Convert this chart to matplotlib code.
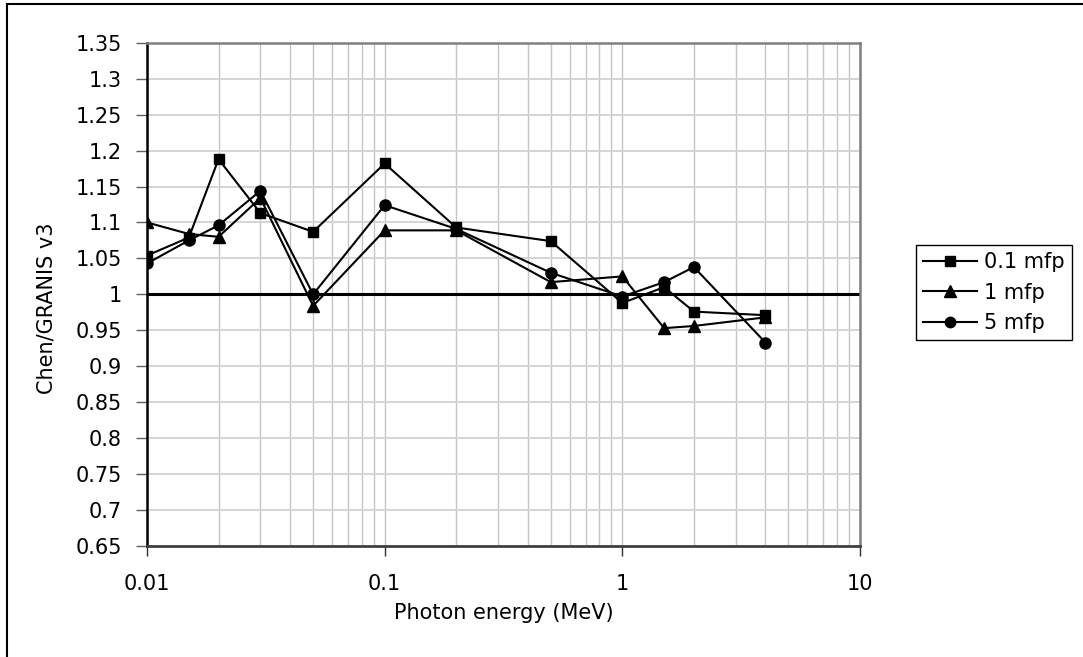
import matplotlib
matplotlib.use("Agg")
import matplotlib.pyplot as plt
from matplotlib.ticker import FixedLocator, LogLocator, NullFormatter, FixedFormatter
from matplotlib.lines import Line2D

energy = [0.01, 0.015, 0.02, 0.03, 0.05, 0.1, 0.2, 0.5, 1, 1.5, 2, 4]
mfp_01 = [1.054, 1.079, 1.188, 1.113, 1.087, 1.182, 1.093, 1.074, 0.988, 1.010, 0.976, 0.971]
mfp_1 = [1.100, 1.084, 1.080, 1.134, 0.984, 1.089, 1.089, 1.017, 1.025, 0.953, 0.956, 0.968]
mfp_5 = [1.043, 1.075, 1.096, 1.144, 1.000, 1.124, 1.091, 1.030, 0.997, 1.017, 1.038, 0.933]
series_labels = ["0.1 mfp", "1 mfp", "5 mfp"]
y_ticks = [0.65, 0.7, 0.75, 0.8, 0.85, 0.9, 0.95, 1, 1.05, 1.1, 1.15, 1.2, 1.25, 1.3, 1.35]
y_ticklabels = ["0.65", "0.7", "0.75", "0.8", "0.85", "0.9", "0.95", "1", "1.05",
                "1.1", "1.15", "1.2", "1.25", "1.3", "1.35"]
x_ticks = [0.01, 0.1, 1, 10]
x_ticklabels = ["0.01", "0.1", "1", "10"]
reference_level = 1.0

plt.rcParams['font.family'] = ['DejaVu Sans']
FS = 15

fig = plt.figure(figsize=(10.83, 6.57), dpi=100)
W, H = 1083, 657
ax = fig.add_axes([147 / W, 1 - 546 / H, (860 - 147) / W, (546 - 42.7) / H])

ax.set_xscale('log')
ax.set_xlim(0.01, 10)
ax.set_ylim(0.65, 1.35)

# grid
ax.xaxis.set_major_locator(FixedLocator(x_ticks))
ax.xaxis.set_major_formatter(FixedFormatter(x_ticklabels))
ax.xaxis.set_minor_locator(LogLocator(base=10, subs=range(2, 10), numticks=20))
ax.xaxis.set_minor_formatter(NullFormatter())
ax.yaxis.set_major_locator(FixedLocator(y_ticks))
ax.yaxis.set_major_formatter(FixedFormatter(y_ticklabels))
ax.grid(True, which='major', axis='y', color='#d4d4d4', linewidth=1.4)
ax.grid(True, which='both', axis='x', color='#c4c4c4', linewidth=1.0)
ax.set_axisbelow(True)

ax.tick_params(axis='x', which='major', direction='out', length=7, width=1,
               pad=13, labelsize=FS, color='#303030')
ax.tick_params(axis='x', which='minor', length=0)
ax.tick_params(axis='y', which='major', direction='out', length=8, width=1,
               pad=10, labelsize=FS, color='#606060')

for s in ['top', 'right']:
    ax.spines[s].set_color('#808080')
    ax.spines[s].set_linewidth(1.8)
ax.spines['left'].set_color('black')
ax.spines['left'].set_linewidth(1.8)
ax.spines['bottom'].set_color('#404040')
ax.spines['bottom'].set_linewidth(2.0)

ax.axhline(reference_level, color='black', linewidth=2.2, zorder=2)

lw = 1.5
ax.plot(energy, mfp_01, color='black', linewidth=lw, marker='s', markersize=7.5, zorder=3)
ax.plot(energy, mfp_1, color='black', linewidth=lw, marker='^', markersize=8.5, zorder=3)
ax.plot(energy, mfp_5, color='black', linewidth=lw, marker='o', markersize=8, zorder=3)

fig.text(504 / W, 1 - 613 / H, "Photon energy (MeV)", fontsize=FS, ha='center', va='center')
fig.text(47 / W, 1 - 308 / H, "Chen/GRANIS v3", fontsize=FS, ha='center', va='center',
         rotation=90)

handles = [
    Line2D([], [], color='black', linewidth=lw, marker='s', markersize=7),
    Line2D([], [], color='black', linewidth=lw, marker='^', markersize=8),
    Line2D([], [], color='black', linewidth=lw, marker='o', markersize=7.5),
]
leg = fig.legend(handles, series_labels, loc='upper left',
                 bbox_to_anchor=(916 / W, 1 - 245 / H), bbox_transform=fig.transFigure,
                 borderaxespad=0, fontsize=FS, frameon=True, fancybox=False,
                 framealpha=1, edgecolor='black', handlelength=2.6,
                 handletextpad=0.3, borderpad=0.35, labelspacing=0.5)
leg.get_frame().set_linewidth(1.0)

# outer chart border (top and left visible)
fig.add_artist(Line2D([7 / W, 7 / W], [0, 1 - 4 / H], transform=fig.transFigure,
                      color='black', linewidth=1.5))
fig.add_artist(Line2D([7 / W, 1], [1 - 4 / H, 1 - 4 / H], transform=fig.transFigure,
                      color='black', linewidth=1.5))

fig.savefig("out.png", dpi=100, facecolor='white')
